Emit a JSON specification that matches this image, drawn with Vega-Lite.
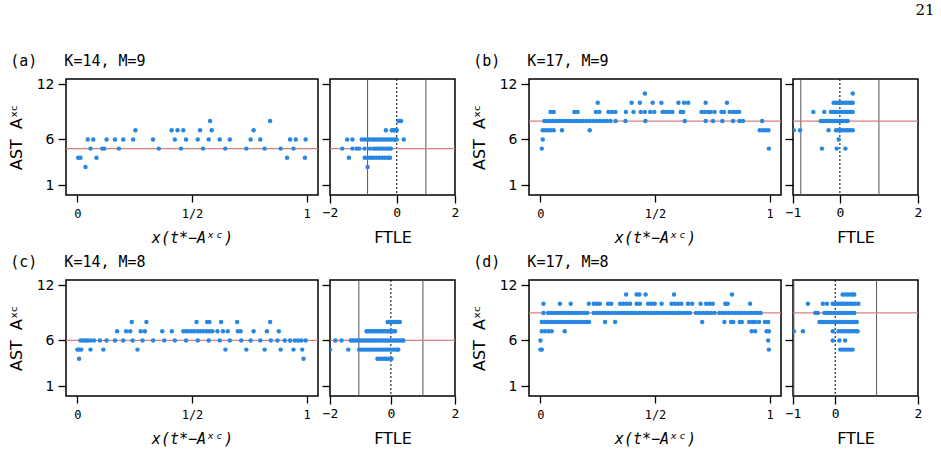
{
"$schema": "https://vega.github.io/schema/vega-lite/v6.json",
"background": "white",
"padding": {"left": 7, "top": 2, "right": 5, "bottom": 0},
"title": {"text": "21", "anchor": "end", "frame": "bounds", "font": "DejaVu Serif", "fontSize": 15, "fontWeight": "normal", "color": "black", "offset": 36, "dx": 12},
"config": {
  "view": {"stroke": "black", "strokeWidth": 1.5},
  "axis": {"domain": false, "grid": false, "tickColor": "black", "tickWidth": 1.3, "labelColor": "black", "titleColor": "black", "titleFontWeight": "normal"}
},
"datasets": {
  "hl": [{"p":"a","y":5},{"p":"b","y":8},{"p":"c","y":6},{"p":"d","y":9}],
  "vl": [{"v":-1,"t":"s"},{"v":1,"t":"s"},{"v":0,"t":"d"}],
  "pts": [
{"p":"a","y":8,"x":0.579},{"p":"a","y":8,"x":0.841},
{"p":"a","y":7,"x":0.253},{"p":"a","y":7,"x":0.411},{"p":"a","y":7,"x":0.437},{"p":"a","y":7,"x":0.462},{"p":"a","y":7,"x":0.535},{"p":"a","y":7,"x":0.586},{"p":"a","y":7,"x":0.769},
{"p":"a","y":6,"x":0.045},{"p":"a","y":6,"x":0.069},{"p":"a","y":6,"x":0.127},{"p":"a","y":6,"x":0.164},{"p":"a","y":6,"x":0.2},{"p":"a","y":6,"x":0.243},{"p":"a","y":6,"x":0.33},{"p":"a","y":6,"x":0.425},{"p":"a","y":6,"x":0.474},{"p":"a","y":6,"x":0.525},{"p":"a","y":6,"x":0.573},{"p":"a","y":6,"x":0.621},{"p":"a","y":6,"x":0.665},{"p":"a","y":6,"x":0.756},{"p":"a","y":6,"x":0.798},{"p":"a","y":6,"x":0.928},{"p":"a","y":6,"x":0.953},{"p":"a","y":6,"x":0.996},
{"p":"a","y":5,"x":0.057},{"p":"a","y":5,"x":0.108},{"p":"a","y":5,"x":0.117},{"p":"a","y":5,"x":0.181},{"p":"a","y":5,"x":0.355},{"p":"a","y":5,"x":0.452},{"p":"a","y":5,"x":0.548},{"p":"a","y":5,"x":0.645},{"p":"a","y":5,"x":0.737},{"p":"a","y":5,"x":0.817},{"p":"a","y":5,"x":0.887},{"p":"a","y":5,"x":0.943},
{"p":"a","y":4,"x":0.003},{"p":"a","y":4,"x":0.013},{"p":"a","y":4,"x":0.083},{"p":"a","y":4,"x":0.915},{"p":"a","y":4,"x":0.993},
{"p":"a","y":3,"x":0.035},

{"p":"b","y":11,"x":0.456},
{"p":"b","y":10,"x":0.25},{"p":"b","y":10,"x":0.398},{"p":"b","y":10,"x":0.434},{"p":"b","y":10,"x":0.49},{"p":"b","y":10,"x":0.528},{"p":"b","y":10,"x":0.602},{"p":"b","y":10,"x":0.627},{"p":"b","y":10,"x":0.645},{"p":"b","y":10,"x":0.721},{"p":"b","y":10,"x":0.814},
{"p":"b","y":9,"x":0.044},{"p":"b","y":9,"x":0.058},{"p":"b","y":9,"x":0.148},{"p":"b","y":9,"x":0.162},{"p":"b","y":9,"x":0.242},{"p":"b","y":9,"x":0.257},{"p":"b","y":9,"x":0.297},{"p":"b","y":9,"x":0.312},{"p":"b","y":9,"x":0.327},{"p":"b","y":9,"x":0.373},{"p":"b","y":9,"x":0.406},{"p":"b","y":9,"x":0.438},{"p":"b","y":9,"x":0.456},{"p":"b","y":9,"x":0.479},{"p":"b","y":9,"x":0.497},{"p":"b","y":9,"x":0.533},{"p":"b","y":9,"x":0.547},{"p":"b","y":9,"x":0.562},{"p":"b","y":9,"x":0.576},{"p":"b","y":9,"x":0.612},{"p":"b","y":9,"x":0.623},{"p":"b","y":9,"x":0.703},{"p":"b","y":9,"x":0.717},{"p":"b","y":9,"x":0.732},{"p":"b","y":9,"x":0.743},{"p":"b","y":9,"x":0.76},{"p":"b","y":9,"x":0.79},{"p":"b","y":9,"x":0.801},{"p":"b","y":9,"x":0.826},{"p":"b","y":9,"x":0.841},{"p":"b","y":9,"x":0.855},{"p":"b","y":9,"x":0.867},
{"p":"b","y":8,"x":0.017},{"p":"b","y":8,"x":0.03},{"p":"b","y":8,"x":0.043},{"p":"b","y":8,"x":0.056},{"p":"b","y":8,"x":0.069},{"p":"b","y":8,"x":0.082},{"p":"b","y":8,"x":0.095},{"p":"b","y":8,"x":0.108},{"p":"b","y":8,"x":0.121},{"p":"b","y":8,"x":0.134},{"p":"b","y":8,"x":0.147},{"p":"b","y":8,"x":0.16},{"p":"b","y":8,"x":0.173},{"p":"b","y":8,"x":0.186},{"p":"b","y":8,"x":0.2},{"p":"b","y":8,"x":0.215},{"p":"b","y":8,"x":0.23},{"p":"b","y":8,"x":0.245},{"p":"b","y":8,"x":0.26},{"p":"b","y":8,"x":0.275},{"p":"b","y":8,"x":0.29},{"p":"b","y":8,"x":0.305},{"p":"b","y":8,"x":0.328},{"p":"b","y":8,"x":0.371},{"p":"b","y":8,"x":0.458},{"p":"b","y":8,"x":0.63},{"p":"b","y":8,"x":0.721},{"p":"b","y":8,"x":0.753},{"p":"b","y":8,"x":0.794},{"p":"b","y":8,"x":0.841},{"p":"b","y":8,"x":0.869},{"p":"b","y":8,"x":0.884},{"p":"b","y":8,"x":0.968},
{"p":"b","y":7,"x":0.01},{"p":"b","y":7,"x":0.022},{"p":"b","y":7,"x":0.034},{"p":"b","y":7,"x":0.046},{"p":"b","y":7,"x":0.058},{"p":"b","y":7,"x":0.094},{"p":"b","y":7,"x":0.215},{"p":"b","y":7,"x":0.957},{"p":"b","y":7,"x":0.971},{"p":"b","y":7,"x":0.983},{"p":"b","y":7,"x":0.995},
{"p":"b","y":6,"x":0.01},
{"p":"b","y":5,"x":0.006},{"p":"b","y":5,"x":0.997},

{"p":"c","y":8,"x":0.237},{"p":"c","y":8,"x":0.301},{"p":"c","y":8,"x":0.52},{"p":"c","y":8,"x":0.566},{"p":"c","y":8,"x":0.576},{"p":"c","y":8,"x":0.627},{"p":"c","y":8,"x":0.697},{"p":"c","y":8,"x":0.841},
{"p":"c","y":7,"x":0.173},{"p":"c","y":7,"x":0.212},{"p":"c","y":7,"x":0.23},{"p":"c","y":7,"x":0.276},{"p":"c","y":7,"x":0.294},{"p":"c","y":7,"x":0.37},{"p":"c","y":7,"x":0.412},{"p":"c","y":7,"x":0.462},{"p":"c","y":7,"x":0.474},{"p":"c","y":7,"x":0.485},{"p":"c","y":7,"x":0.499},{"p":"c","y":7,"x":0.51},{"p":"c","y":7,"x":0.525},{"p":"c","y":7,"x":0.537},{"p":"c","y":7,"x":0.55},{"p":"c","y":7,"x":0.564},{"p":"c","y":7,"x":0.576},{"p":"c","y":7,"x":0.589},{"p":"c","y":7,"x":0.611},{"p":"c","y":7,"x":0.635},{"p":"c","y":7,"x":0.656},{"p":"c","y":7,"x":0.7},{"p":"c","y":7,"x":0.712},{"p":"c","y":7,"x":0.769},{"p":"c","y":7,"x":0.827},{"p":"c","y":7,"x":0.879},
{"p":"c","y":6,"x":0.013},{"p":"c","y":6,"x":0.025},{"p":"c","y":6,"x":0.035},{"p":"c","y":6,"x":0.045},{"p":"c","y":6,"x":0.057},{"p":"c","y":6,"x":0.072},{"p":"c","y":6,"x":0.098},{"p":"c","y":6,"x":0.127},{"p":"c","y":6,"x":0.164},{"p":"c","y":6,"x":0.2},{"p":"c","y":6,"x":0.241},{"p":"c","y":6,"x":0.284},{"p":"c","y":6,"x":0.33},{"p":"c","y":6,"x":0.379},{"p":"c","y":6,"x":0.425},{"p":"c","y":6,"x":0.474},{"p":"c","y":6,"x":0.525},{"p":"c","y":6,"x":0.573},{"p":"c","y":6,"x":0.621},{"p":"c","y":6,"x":0.665},{"p":"c","y":6,"x":0.715},{"p":"c","y":6,"x":0.756},{"p":"c","y":6,"x":0.798},{"p":"c","y":6,"x":0.844},{"p":"c","y":6,"x":0.873},{"p":"c","y":6,"x":0.905},{"p":"c","y":6,"x":0.928},{"p":"c","y":6,"x":0.949},{"p":"c","y":6,"x":0.963},{"p":"c","y":6,"x":0.978},{"p":"c","y":6,"x":0.996},
{"p":"c","y":5,"x":0.0},{"p":"c","y":5,"x":0.007},{"p":"c","y":5,"x":0.017},{"p":"c","y":5,"x":0.057},{"p":"c","y":5,"x":0.113},{"p":"c","y":5,"x":0.262},{"p":"c","y":5,"x":0.646},{"p":"c","y":5,"x":0.737},{"p":"c","y":5,"x":0.817},{"p":"c","y":5,"x":0.887},{"p":"c","y":5,"x":0.943},{"p":"c","y":5,"x":0.981},
{"p":"c","y":4,"x":0.007},{"p":"c","y":4,"x":0.987},

{"p":"d","y":11,"x":0.374},{"p":"d","y":11,"x":0.42},{"p":"d","y":11,"x":0.432},{"p":"d","y":11,"x":0.459},{"p":"d","y":11,"x":0.583},{"p":"d","y":11,"x":0.836},
{"p":"d","y":10,"x":0.013},{"p":"d","y":10,"x":0.085},{"p":"d","y":10,"x":0.132},{"p":"d","y":10,"x":0.211},{"p":"d","y":10,"x":0.233},{"p":"d","y":10,"x":0.247},{"p":"d","y":10,"x":0.259},{"p":"d","y":10,"x":0.295},{"p":"d","y":10,"x":0.309},{"p":"d","y":10,"x":0.348},{"p":"d","y":10,"x":0.362},{"p":"d","y":10,"x":0.377},{"p":"d","y":10,"x":0.391},{"p":"d","y":10,"x":0.42},{"p":"d","y":10,"x":0.434},{"p":"d","y":10,"x":0.47},{"p":"d","y":10,"x":0.484},{"p":"d","y":10,"x":0.499},{"p":"d","y":10,"x":0.529},{"p":"d","y":10,"x":0.572},{"p":"d","y":10,"x":0.587},{"p":"d","y":10,"x":0.601},{"p":"d","y":10,"x":0.615},{"p":"d","y":10,"x":0.644},{"p":"d","y":10,"x":0.662},{"p":"d","y":10,"x":0.699},{"p":"d","y":10,"x":0.723},{"p":"d","y":10,"x":0.738},{"p":"d","y":10,"x":0.752},{"p":"d","y":10,"x":0.807},{"p":"d","y":10,"x":0.817},{"p":"d","y":10,"x":0.915},
{"p":"d","y":9,"x":0.013},{"p":"d","y":9,"x":0.034},{"p":"d","y":9,"x":0.047},{"p":"d","y":9,"x":0.06},{"p":"d","y":9,"x":0.073},{"p":"d","y":9,"x":0.086},{"p":"d","y":9,"x":0.1},{"p":"d","y":9,"x":0.113},{"p":"d","y":9,"x":0.126},{"p":"d","y":9,"x":0.139},{"p":"d","y":9,"x":0.152},{"p":"d","y":9,"x":0.165},{"p":"d","y":9,"x":0.178},{"p":"d","y":9,"x":0.191},{"p":"d","y":9,"x":0.204},{"p":"d","y":9,"x":0.233},{"p":"d","y":9,"x":0.246},{"p":"d","y":9,"x":0.259},{"p":"d","y":9,"x":0.272},{"p":"d","y":9,"x":0.285},{"p":"d","y":9,"x":0.298},{"p":"d","y":9,"x":0.312},{"p":"d","y":9,"x":0.326},{"p":"d","y":9,"x":0.341},{"p":"d","y":9,"x":0.354},{"p":"d","y":9,"x":0.367},{"p":"d","y":9,"x":0.38},{"p":"d","y":9,"x":0.393},{"p":"d","y":9,"x":0.406},{"p":"d","y":9,"x":0.419},{"p":"d","y":9,"x":0.432},{"p":"d","y":9,"x":0.445},{"p":"d","y":9,"x":0.458},{"p":"d","y":9,"x":0.471},{"p":"d","y":9,"x":0.484},{"p":"d","y":9,"x":0.497},{"p":"d","y":9,"x":0.51},{"p":"d","y":9,"x":0.523},{"p":"d","y":9,"x":0.536},{"p":"d","y":9,"x":0.549},{"p":"d","y":9,"x":0.562},{"p":"d","y":9,"x":0.575},{"p":"d","y":9,"x":0.588},{"p":"d","y":9,"x":0.601},{"p":"d","y":9,"x":0.609},{"p":"d","y":9,"x":0.623},{"p":"d","y":9,"x":0.638},{"p":"d","y":9,"x":0.652},{"p":"d","y":9,"x":0.679},{"p":"d","y":9,"x":0.693},{"p":"d","y":9,"x":0.708},{"p":"d","y":9,"x":0.722},{"p":"d","y":9,"x":0.731},{"p":"d","y":9,"x":0.745},{"p":"d","y":9,"x":0.76},{"p":"d","y":9,"x":0.781},{"p":"d","y":9,"x":0.795},{"p":"d","y":9,"x":0.809},{"p":"d","y":9,"x":0.823},{"p":"d","y":9,"x":0.837},{"p":"d","y":9,"x":0.851},{"p":"d","y":9,"x":0.865},{"p":"d","y":9,"x":0.879},{"p":"d","y":9,"x":0.893},{"p":"d","y":9,"x":0.907},{"p":"d","y":9,"x":0.921},{"p":"d","y":9,"x":0.935},{"p":"d","y":9,"x":0.948},{"p":"d","y":9,"x":0.961},
{"p":"d","y":8,"x":0.006},{"p":"d","y":8,"x":0.019},{"p":"d","y":8,"x":0.032},{"p":"d","y":8,"x":0.045},{"p":"d","y":8,"x":0.058},{"p":"d","y":8,"x":0.071},{"p":"d","y":8,"x":0.084},{"p":"d","y":8,"x":0.097},{"p":"d","y":8,"x":0.11},{"p":"d","y":8,"x":0.123},{"p":"d","y":8,"x":0.136},{"p":"d","y":8,"x":0.149},{"p":"d","y":8,"x":0.162},{"p":"d","y":8,"x":0.175},{"p":"d","y":8,"x":0.188},{"p":"d","y":8,"x":0.2},{"p":"d","y":8,"x":0.212},{"p":"d","y":8,"x":0.282},{"p":"d","y":8,"x":0.326},{"p":"d","y":8,"x":0.706},{"p":"d","y":8,"x":0.803},{"p":"d","y":8,"x":0.832},{"p":"d","y":8,"x":0.842},{"p":"d","y":8,"x":0.87},{"p":"d","y":8,"x":0.879},{"p":"d","y":8,"x":0.911},{"p":"d","y":8,"x":0.925},{"p":"d","y":8,"x":0.937},{"p":"d","y":8,"x":0.954},{"p":"d","y":8,"x":0.98},{"p":"d","y":8,"x":0.994},
{"p":"d","y":7,"x":0.006},{"p":"d","y":7,"x":0.02},{"p":"d","y":7,"x":0.035},{"p":"d","y":7,"x":0.049},{"p":"d","y":7,"x":0.106},{"p":"d","y":7,"x":0.922},{"p":"d","y":7,"x":0.937},{"p":"d","y":7,"x":0.987},{"p":"d","y":7,"x":0.997},
{"p":"d","y":6,"x":0.0},{"p":"d","y":6,"x":0.994},
{"p":"d","y":5,"x":0.0},{"p":"d","y":5,"x":0.006},{"p":"d","y":5,"x":0.997}
  ],
  "ft": [
{"p":"a","y":8,"f":0.06},{"p":"a","y":8,"f":0.15},
{"p":"a","y":7,"f":-0.37},{"p":"a","y":7,"f":-0.17},{"p":"a","y":7,"f":-0.12},{"p":"a","y":7,"f":-0.08},{"p":"a","y":7,"f":-0.04},{"p":"a","y":7,"f":0.0},
{"p":"a","y":6,"f":-1.7},{"p":"a","y":6,"f":-1.52},{"p":"a","y":6,"f":-1.2},{"p":"a","y":6,"f":-1.1},{"p":"a","y":6,"f":-1.0},{"p":"a","y":6,"f":-0.92},{"p":"a","y":6,"f":-0.84},{"p":"a","y":6,"f":-0.76},{"p":"a","y":6,"f":-0.68},{"p":"a","y":6,"f":-0.6},{"p":"a","y":6,"f":-0.52},{"p":"a","y":6,"f":-0.44},{"p":"a","y":6,"f":-0.36},{"p":"a","y":6,"f":-0.28},{"p":"a","y":6,"f":-0.2},{"p":"a","y":6,"f":-0.12},{"p":"a","y":6,"f":-0.05},{"p":"a","y":6,"f":0.0},{"p":"a","y":6,"f":0.24},
{"p":"a","y":5,"f":-1.87},{"p":"a","y":5,"f":-1.52},{"p":"a","y":5,"f":-1.38},{"p":"a","y":5,"f":-1.29},{"p":"a","y":5,"f":-1.1},{"p":"a","y":5,"f":-0.92},{"p":"a","y":5,"f":-0.8},{"p":"a","y":5,"f":-0.72},{"p":"a","y":5,"f":-0.64},{"p":"a","y":5,"f":-0.56},{"p":"a","y":5,"f":-0.48},{"p":"a","y":5,"f":-0.4},{"p":"a","y":5,"f":-0.32},{"p":"a","y":5,"f":-0.24},{"p":"a","y":5,"f":-0.2},
{"p":"a","y":4,"f":-1.64},{"p":"a","y":4,"f":-1.1},{"p":"a","y":4,"f":-1.0},{"p":"a","y":4,"f":-0.9},{"p":"a","y":4,"f":-0.8},{"p":"a","y":4,"f":-0.7},{"p":"a","y":4,"f":-0.6},{"p":"a","y":4,"f":-0.5},{"p":"a","y":4,"f":-0.4},{"p":"a","y":4,"f":-0.3},{"p":"a","y":4,"f":-0.23},
{"p":"a","y":3,"f":-1.0},

{"p":"b","y":11,"f":0.33},
{"p":"b","y":10,"f":-0.16},{"p":"b","y":10,"f":-0.1},{"p":"b","y":10,"f":-0.04},{"p":"b","y":10,"f":0.03},{"p":"b","y":10,"f":0.1},{"p":"b","y":10,"f":0.16},{"p":"b","y":10,"f":0.22},{"p":"b","y":10,"f":0.28},{"p":"b","y":10,"f":0.33},
{"p":"b","y":9,"f":-0.68},{"p":"b","y":9,"f":-0.4},{"p":"b","y":9,"f":-0.23},{"p":"b","y":9,"f":-0.17},{"p":"b","y":9,"f":-0.11},{"p":"b","y":9,"f":-0.05},{"p":"b","y":9,"f":0.0},{"p":"b","y":9,"f":0.05},{"p":"b","y":9,"f":0.1},{"p":"b","y":9,"f":0.15},{"p":"b","y":9,"f":0.2},{"p":"b","y":9,"f":0.25},{"p":"b","y":9,"f":0.3},{"p":"b","y":9,"f":0.33},
{"p":"b","y":8,"f":-0.49},{"p":"b","y":8,"f":-0.43},{"p":"b","y":8,"f":-0.37},{"p":"b","y":8,"f":-0.31},{"p":"b","y":8,"f":-0.25},{"p":"b","y":8,"f":-0.19},{"p":"b","y":8,"f":-0.13},{"p":"b","y":8,"f":-0.07},{"p":"b","y":8,"f":-0.01},{"p":"b","y":8,"f":0.05},{"p":"b","y":8,"f":0.11},{"p":"b","y":8,"f":0.17},{"p":"b","y":8,"f":0.2},
{"p":"b","y":7,"f":-1.18},{"p":"b","y":7,"f":-1.02},{"p":"b","y":7,"f":-0.29},{"p":"b","y":7,"f":-0.1},{"p":"b","y":7,"f":-0.04},{"p":"b","y":7,"f":0.02},{"p":"b","y":7,"f":0.08},{"p":"b","y":7,"f":0.14},{"p":"b","y":7,"f":0.2},{"p":"b","y":7,"f":0.26},{"p":"b","y":7,"f":0.33},
{"p":"b","y":6,"f":-0.03},
{"p":"b","y":5,"f":-0.46},{"p":"b","y":5,"f":-0.08},{"p":"b","y":5,"f":0.14},

{"p":"c","y":8,"f":-0.1},{"p":"c","y":8,"f":-0.05},{"p":"c","y":8,"f":0.0},{"p":"c","y":8,"f":0.05},{"p":"c","y":8,"f":0.1},{"p":"c","y":8,"f":0.15},{"p":"c","y":8,"f":0.2},{"p":"c","y":8,"f":0.28},
{"p":"c","y":7,"f":-0.76},{"p":"c","y":7,"f":-0.7},{"p":"c","y":7,"f":-0.64},{"p":"c","y":7,"f":-0.58},{"p":"c","y":7,"f":-0.52},{"p":"c","y":7,"f":-0.46},{"p":"c","y":7,"f":-0.4},{"p":"c","y":7,"f":-0.34},{"p":"c","y":7,"f":-0.28},{"p":"c","y":7,"f":-0.22},{"p":"c","y":7,"f":-0.16},{"p":"c","y":7,"f":-0.1},{"p":"c","y":7,"f":-0.04},{"p":"c","y":7,"f":0.02},{"p":"c","y":7,"f":0.08},{"p":"c","y":7,"f":0.13},
{"p":"c","y":6,"f":-1.73},{"p":"c","y":6,"f":-1.54},{"p":"c","y":6,"f":-1.25},{"p":"c","y":6,"f":-1.19},{"p":"c","y":6,"f":-1.12},{"p":"c","y":6,"f":-1.05},{"p":"c","y":6,"f":-0.98},{"p":"c","y":6,"f":-0.91},{"p":"c","y":6,"f":-0.84},{"p":"c","y":6,"f":-0.77},{"p":"c","y":6,"f":-0.7},{"p":"c","y":6,"f":-0.63},{"p":"c","y":6,"f":-0.56},{"p":"c","y":6,"f":-0.49},{"p":"c","y":6,"f":-0.42},{"p":"c","y":6,"f":-0.35},{"p":"c","y":6,"f":-0.28},{"p":"c","y":6,"f":-0.21},{"p":"c","y":6,"f":-0.14},{"p":"c","y":6,"f":-0.07},{"p":"c","y":6,"f":0.0},{"p":"c","y":6,"f":0.07},{"p":"c","y":6,"f":0.14},{"p":"c","y":6,"f":0.21},{"p":"c","y":6,"f":0.28},{"p":"c","y":6,"f":0.35},{"p":"c","y":6,"f":0.39},
{"p":"c","y":5,"f":-1.9},{"p":"c","y":5,"f":-1.33},{"p":"c","y":5,"f":-0.99},{"p":"c","y":5,"f":-0.92},{"p":"c","y":5,"f":-0.85},{"p":"c","y":5,"f":-0.78},{"p":"c","y":5,"f":-0.71},{"p":"c","y":5,"f":-0.64},{"p":"c","y":5,"f":-0.57},{"p":"c","y":5,"f":-0.5},{"p":"c","y":5,"f":-0.43},{"p":"c","y":5,"f":-0.36},{"p":"c","y":5,"f":-0.29},{"p":"c","y":5,"f":-0.22},{"p":"c","y":5,"f":-0.15},{"p":"c","y":5,"f":-0.08},{"p":"c","y":5,"f":-0.01},{"p":"c","y":5,"f":0.06},{"p":"c","y":5,"f":0.13},{"p":"c","y":5,"f":0.2},{"p":"c","y":5,"f":0.23},
{"p":"c","y":4,"f":-0.42},{"p":"c","y":4,"f":-0.35},{"p":"c","y":4,"f":-0.28},{"p":"c","y":4,"f":-0.21},{"p":"c","y":4,"f":-0.14},{"p":"c","y":4,"f":-0.07},{"p":"c","y":4,"f":0.0},{"p":"c","y":4,"f":0.02},

{"p":"d","y":11,"f":0.18},{"p":"d","y":11,"f":0.24},{"p":"d","y":11,"f":0.3},{"p":"d","y":11,"f":0.36},{"p":"d","y":11,"f":0.42},{"p":"d","y":11,"f":0.46},
{"p":"d","y":10,"f":-0.66},{"p":"d","y":10,"f":-0.3},{"p":"d","y":10,"f":-0.2},{"p":"d","y":10,"f":-0.06},{"p":"d","y":10,"f":0.0},{"p":"d","y":10,"f":0.06},{"p":"d","y":10,"f":0.12},{"p":"d","y":10,"f":0.18},{"p":"d","y":10,"f":0.24},{"p":"d","y":10,"f":0.3},{"p":"d","y":10,"f":0.36},{"p":"d","y":10,"f":0.42},{"p":"d","y":10,"f":0.48},{"p":"d","y":10,"f":0.56},
{"p":"d","y":9,"f":-0.48},{"p":"d","y":9,"f":-0.42},{"p":"d","y":9,"f":-0.26},{"p":"d","y":9,"f":-0.2},{"p":"d","y":9,"f":-0.14},{"p":"d","y":9,"f":-0.08},{"p":"d","y":9,"f":-0.02},{"p":"d","y":9,"f":0.04},{"p":"d","y":9,"f":0.1},{"p":"d","y":9,"f":0.16},{"p":"d","y":9,"f":0.22},{"p":"d","y":9,"f":0.28},{"p":"d","y":9,"f":0.34},{"p":"d","y":9,"f":0.4},{"p":"d","y":9,"f":0.46},
{"p":"d","y":8,"f":-0.38},{"p":"d","y":8,"f":-0.32},{"p":"d","y":8,"f":-0.26},{"p":"d","y":8,"f":-0.2},{"p":"d","y":8,"f":-0.14},{"p":"d","y":8,"f":-0.08},{"p":"d","y":8,"f":-0.02},{"p":"d","y":8,"f":0.04},{"p":"d","y":8,"f":0.1},{"p":"d","y":8,"f":0.16},{"p":"d","y":8,"f":0.22},{"p":"d","y":8,"f":0.28},{"p":"d","y":8,"f":0.34},{"p":"d","y":8,"f":0.4},{"p":"d","y":8,"f":0.46},{"p":"d","y":8,"f":0.52},
{"p":"d","y":7,"f":-1.0},{"p":"d","y":7,"f":-0.78},{"p":"d","y":7,"f":-0.06},{"p":"d","y":7,"f":0.08},{"p":"d","y":7,"f":0.14},{"p":"d","y":7,"f":0.2},{"p":"d","y":7,"f":0.26},{"p":"d","y":7,"f":0.32},{"p":"d","y":7,"f":0.38},{"p":"d","y":7,"f":0.44},{"p":"d","y":7,"f":0.5},{"p":"d","y":7,"f":0.54},
{"p":"d","y":6,"f":-0.06},{"p":"d","y":6,"f":0.1},{"p":"d","y":6,"f":0.24},
{"p":"d","y":5,"f":0.12},{"p":"d","y":5,"f":0.18},{"p":"d","y":5,"f":0.24},{"p":"d","y":5,"f":0.3},{"p":"d","y":5,"f":0.36},{"p":"d","y":5,"f":0.42}
  ]
},
"spacing": 8,
"vconcat": [
 {"spacing": 10, "hconcat": [
  {"spacing": 0, "hconcat": [
   {"width": 252, "height": 116,
    "title": {"text": "(a)\u00a0\u00a0\u00a0K=14,\u00a0M=9", "anchor": "start", "frame": "bounds", "font": "DejaVu Sans Mono", "fontSize": 15, "fontWeight": "normal", "color": "black", "offset": 8, "dx": 2},
    "layer": [
     {"data": {"name": "hl"}, "transform": [{"filter": "datum.p == 'a'"}], "mark": {"type": "rule", "color": "#d98080", "strokeWidth": 1.3},
      "encoding": {"y": {"field": "y", "type": "quantitative", "scale": {"domain": [-0.05, 12.58], "nice": false, "zero": false}, "axis": {"values": [1, 6, 12], "tickSize": 8, "labelFont": "DejaVu Sans", "labelFontSize": 14, "labelPadding": 4, "title": "AST\u00a0\u00a0Aˣᶜ", "titleFont": "DejaVu Sans", "titleFontSize": 16, "titlePadding": 12}}}},
     {"data": {"name": "pts"}, "transform": [{"filter": "datum.p == 'a'"}], "mark": {"type": "circle", "size": 20, "color": "#2787e3", "opacity": 1},
      "encoding": {
       "x": {"field": "x", "type": "quantitative", "scale": {"domain": [-0.05, 1.05], "nice": false, "zero": false}, "axis": {"values": [0, 0.5, 1], "labelExpr": "datum.value == 0.5 ? '1/2' : (datum.value == 0 ? '0' : '1')", "tickSize": 7, "labelFont": "DejaVu Sans Mono", "labelFontSize": 12, "labelPadding": 6, "labelFlush": false, "title": "x(t*−Aˣᶜ)", "titleFont": "DejaVu Sans Mono", "titleFontStyle": "italic", "titleFontSize": 15, "titlePadding": 11}},
       "y": {"field": "y", "type": "quantitative", "scale": {"domain": [-0.05, 12.58], "nice": false, "zero": false}, "axis": {"values": [1, 6, 12], "tickSize": 8, "labelFont": "DejaVu Sans", "labelFontSize": 14, "labelPadding": 4, "title": "AST\u00a0\u00a0Aˣᶜ", "titleFont": "DejaVu Sans", "titleFontSize": 16, "titlePadding": 12}}}}
    ]},
   {"width": 125, "height": 116,
    "layer": [
     {"data": {"name": "vl"}, "transform": [{"filter": "datum.t == 's'"}], "mark": {"type": "rule", "color": "#555555", "strokeWidth": 1},
      "encoding": {"x": {"field": "v", "type": "quantitative", "scale": {"domain": [-2.29, 2], "nice": false, "zero": false}, "axis": {"values": [-2.29, 0, 2], "labelExpr": "datum.value < -1.5 ? '−2' : (datum.value < -0.5 ? '−1' : (datum.value == 0 ? '0' : '2'))", "tickSize": 8, "labelFont": "DejaVu Sans Mono", "labelFontSize": 13, "labelPadding": 3, "labelFlush": false, "labelOverlap": false, "title": "FTLE", "titleFont": "DejaVu Sans", "titleFontSize": 16, "titlePadding": 10}}}},
     {"data": {"name": "vl"}, "transform": [{"filter": "datum.t == 'd'"}], "mark": {"type": "rule", "color": "black", "strokeWidth": 1, "strokeDash": [2, 2]},
      "encoding": {"x": {"field": "v", "type": "quantitative", "scale": {"domain": [-2.29, 2], "nice": false, "zero": false}}}},
     {"data": {"name": "hl"}, "transform": [{"filter": "datum.p == 'a'"}], "mark": {"type": "rule", "color": "#d98080", "strokeWidth": 1.3},
      "encoding": {"y": {"field": "y", "type": "quantitative", "scale": {"domain": [-0.05, 12.58], "nice": false, "zero": false}, "axis": {"values": [1, 6, 12], "tickSize": 8, "labels": false, "title": null}}}},
     {"data": {"name": "ft"}, "transform": [{"filter": "datum.p == 'a'"}], "mark": {"type": "circle", "size": 20, "color": "#2787e3", "opacity": 1, "clip": true},
      "encoding": {
       "x": {"field": "f", "type": "quantitative", "scale": {"domain": [-2.29, 2], "nice": false, "zero": false}},
       "y": {"field": "y", "type": "quantitative", "scale": {"domain": [-0.05, 12.58], "nice": false, "zero": false}, "axis": {"values": [1, 6, 12], "tickSize": 8, "labels": false, "title": null}}}}
    ]}
  ]},
  {"spacing": 0, "hconcat": [
   {"width": 252, "height": 116,
    "title": {"text": "(b)\u00a0\u00a0\u00a0K=17,\u00a0M=9", "anchor": "start", "frame": "bounds", "font": "DejaVu Sans Mono", "fontSize": 15, "fontWeight": "normal", "color": "black", "offset": 8, "dx": 2},
    "layer": [
     {"data": {"name": "hl"}, "transform": [{"filter": "datum.p == 'b'"}], "mark": {"type": "rule", "color": "#d98080", "strokeWidth": 1.3},
      "encoding": {"y": {"field": "y", "type": "quantitative", "scale": {"domain": [-0.05, 12.58], "nice": false, "zero": false}, "axis": {"values": [1, 6, 12], "tickSize": 8, "labelFont": "DejaVu Sans", "labelFontSize": 14, "labelPadding": 4, "title": "AST\u00a0\u00a0Aˣᶜ", "titleFont": "DejaVu Sans", "titleFontSize": 16, "titlePadding": 12}}}},
     {"data": {"name": "pts"}, "transform": [{"filter": "datum.p == 'b'"}], "mark": {"type": "circle", "size": 20, "color": "#2787e3", "opacity": 1},
      "encoding": {
       "x": {"field": "x", "type": "quantitative", "scale": {"domain": [-0.05, 1.05], "nice": false, "zero": false}, "axis": {"values": [0, 0.5, 1], "labelExpr": "datum.value == 0.5 ? '1/2' : (datum.value == 0 ? '0' : '1')", "tickSize": 7, "labelFont": "DejaVu Sans Mono", "labelFontSize": 12, "labelPadding": 6, "labelFlush": false, "title": "x(t*−Aˣᶜ)", "titleFont": "DejaVu Sans Mono", "titleFontStyle": "italic", "titleFontSize": 15, "titlePadding": 11}},
       "y": {"field": "y", "type": "quantitative", "scale": {"domain": [-0.05, 12.58], "nice": false, "zero": false}, "axis": {"values": [1, 6, 12], "tickSize": 8, "labelFont": "DejaVu Sans", "labelFontSize": 14, "labelPadding": 4, "title": "AST\u00a0\u00a0Aˣᶜ", "titleFont": "DejaVu Sans", "titleFontSize": 16, "titlePadding": 12}}}}
    ]},
   {"width": 125, "height": 116,
    "layer": [
     {"data": {"name": "vl"}, "transform": [{"filter": "datum.t == 's'"}], "mark": {"type": "rule", "color": "#555555", "strokeWidth": 1},
      "encoding": {"x": {"field": "v", "type": "quantitative", "scale": {"domain": [-1.2, 2], "nice": false, "zero": false}, "axis": {"values": [-1.2, 0, 2], "labelExpr": "datum.value < -1.5 ? '−2' : (datum.value < -0.5 ? '−1' : (datum.value == 0 ? '0' : '2'))", "tickSize": 8, "labelFont": "DejaVu Sans Mono", "labelFontSize": 13, "labelPadding": 3, "labelFlush": false, "labelOverlap": false, "title": "FTLE", "titleFont": "DejaVu Sans", "titleFontSize": 16, "titlePadding": 10}}}},
     {"data": {"name": "vl"}, "transform": [{"filter": "datum.t == 'd'"}], "mark": {"type": "rule", "color": "black", "strokeWidth": 1, "strokeDash": [2, 2]},
      "encoding": {"x": {"field": "v", "type": "quantitative", "scale": {"domain": [-1.2, 2], "nice": false, "zero": false}}}},
     {"data": {"name": "hl"}, "transform": [{"filter": "datum.p == 'b'"}], "mark": {"type": "rule", "color": "#d98080", "strokeWidth": 1.3},
      "encoding": {"y": {"field": "y", "type": "quantitative", "scale": {"domain": [-0.05, 12.58], "nice": false, "zero": false}, "axis": {"values": [1, 6, 12], "tickSize": 8, "labels": false, "title": null}}}},
     {"data": {"name": "ft"}, "transform": [{"filter": "datum.p == 'b'"}], "mark": {"type": "circle", "size": 20, "color": "#2787e3", "opacity": 1, "clip": true},
      "encoding": {
       "x": {"field": "f", "type": "quantitative", "scale": {"domain": [-1.2, 2], "nice": false, "zero": false}},
       "y": {"field": "y", "type": "quantitative", "scale": {"domain": [-0.05, 12.58], "nice": false, "zero": false}, "axis": {"values": [1, 6, 12], "tickSize": 8, "labels": false, "title": null}}}}
    ]}
  ]}
 ]},
 {"spacing": 10, "hconcat": [
  {"spacing": 0, "hconcat": [
   {"width": 252, "height": 116,
    "title": {"text": "(c)\u00a0\u00a0\u00a0K=14,\u00a0M=8", "anchor": "start", "frame": "bounds", "font": "DejaVu Sans Mono", "fontSize": 15, "fontWeight": "normal", "color": "black", "offset": 8, "dx": 2},
    "layer": [
     {"data": {"name": "hl"}, "transform": [{"filter": "datum.p == 'c'"}], "mark": {"type": "rule", "color": "#d98080", "strokeWidth": 1.3},
      "encoding": {"y": {"field": "y", "type": "quantitative", "scale": {"domain": [-0.05, 12.58], "nice": false, "zero": false}, "axis": {"values": [1, 6, 12], "tickSize": 8, "labelFont": "DejaVu Sans", "labelFontSize": 14, "labelPadding": 4, "title": "AST\u00a0\u00a0Aˣᶜ", "titleFont": "DejaVu Sans", "titleFontSize": 16, "titlePadding": 12}}}},
     {"data": {"name": "pts"}, "transform": [{"filter": "datum.p == 'c'"}], "mark": {"type": "circle", "size": 20, "color": "#2787e3", "opacity": 1},
      "encoding": {
       "x": {"field": "x", "type": "quantitative", "scale": {"domain": [-0.05, 1.05], "nice": false, "zero": false}, "axis": {"values": [0, 0.5, 1], "labelExpr": "datum.value == 0.5 ? '1/2' : (datum.value == 0 ? '0' : '1')", "tickSize": 7, "labelFont": "DejaVu Sans Mono", "labelFontSize": 12, "labelPadding": 6, "labelFlush": false, "title": "x(t*−Aˣᶜ)", "titleFont": "DejaVu Sans Mono", "titleFontStyle": "italic", "titleFontSize": 15, "titlePadding": 11}},
       "y": {"field": "y", "type": "quantitative", "scale": {"domain": [-0.05, 12.58], "nice": false, "zero": false}, "axis": {"values": [1, 6, 12], "tickSize": 8, "labelFont": "DejaVu Sans", "labelFontSize": 14, "labelPadding": 4, "title": "AST\u00a0\u00a0Aˣᶜ", "titleFont": "DejaVu Sans", "titleFontSize": 16, "titlePadding": 12}}}}
    ]},
   {"width": 125, "height": 116,
    "layer": [
     {"data": {"name": "vl"}, "transform": [{"filter": "datum.t == 's'"}], "mark": {"type": "rule", "color": "#555555", "strokeWidth": 1},
      "encoding": {"x": {"field": "v", "type": "quantitative", "scale": {"domain": [-1.9, 2], "nice": false, "zero": false}, "axis": {"values": [-1.9, 0, 2], "labelExpr": "datum.value < -1.5 ? '−2' : (datum.value < -0.5 ? '−1' : (datum.value == 0 ? '0' : '2'))", "tickSize": 8, "labelFont": "DejaVu Sans Mono", "labelFontSize": 13, "labelPadding": 3, "labelFlush": false, "labelOverlap": false, "title": "FTLE", "titleFont": "DejaVu Sans", "titleFontSize": 16, "titlePadding": 10}}}},
     {"data": {"name": "vl"}, "transform": [{"filter": "datum.t == 'd'"}], "mark": {"type": "rule", "color": "black", "strokeWidth": 1, "strokeDash": [2, 2]},
      "encoding": {"x": {"field": "v", "type": "quantitative", "scale": {"domain": [-1.9, 2], "nice": false, "zero": false}}}},
     {"data": {"name": "hl"}, "transform": [{"filter": "datum.p == 'c'"}], "mark": {"type": "rule", "color": "#d98080", "strokeWidth": 1.3},
      "encoding": {"y": {"field": "y", "type": "quantitative", "scale": {"domain": [-0.05, 12.58], "nice": false, "zero": false}, "axis": {"values": [1, 6, 12], "tickSize": 8, "labels": false, "title": null}}}},
     {"data": {"name": "ft"}, "transform": [{"filter": "datum.p == 'c'"}], "mark": {"type": "circle", "size": 20, "color": "#2787e3", "opacity": 1, "clip": true},
      "encoding": {
       "x": {"field": "f", "type": "quantitative", "scale": {"domain": [-1.9, 2], "nice": false, "zero": false}},
       "y": {"field": "y", "type": "quantitative", "scale": {"domain": [-0.05, 12.58], "nice": false, "zero": false}, "axis": {"values": [1, 6, 12], "tickSize": 8, "labels": false, "title": null}}}}
    ]}
  ]},
  {"spacing": 0, "hconcat": [
   {"width": 252, "height": 116,
    "title": {"text": "(d)\u00a0\u00a0\u00a0K=17,\u00a0M=8", "anchor": "start", "frame": "bounds", "font": "DejaVu Sans Mono", "fontSize": 15, "fontWeight": "normal", "color": "black", "offset": 8, "dx": 2},
    "layer": [
     {"data": {"name": "hl"}, "transform": [{"filter": "datum.p == 'd'"}], "mark": {"type": "rule", "color": "#d98080", "strokeWidth": 1.3},
      "encoding": {"y": {"field": "y", "type": "quantitative", "scale": {"domain": [-0.05, 12.58], "nice": false, "zero": false}, "axis": {"values": [1, 6, 12], "tickSize": 8, "labelFont": "DejaVu Sans", "labelFontSize": 14, "labelPadding": 4, "title": "AST\u00a0\u00a0Aˣᶜ", "titleFont": "DejaVu Sans", "titleFontSize": 16, "titlePadding": 12}}}},
     {"data": {"name": "pts"}, "transform": [{"filter": "datum.p == 'd'"}], "mark": {"type": "circle", "size": 20, "color": "#2787e3", "opacity": 1},
      "encoding": {
       "x": {"field": "x", "type": "quantitative", "scale": {"domain": [-0.05, 1.05], "nice": false, "zero": false}, "axis": {"values": [0, 0.5, 1], "labelExpr": "datum.value == 0.5 ? '1/2' : (datum.value == 0 ? '0' : '1')", "tickSize": 7, "labelFont": "DejaVu Sans Mono", "labelFontSize": 12, "labelPadding": 6, "labelFlush": false, "title": "x(t*−Aˣᶜ)", "titleFont": "DejaVu Sans Mono", "titleFontStyle": "italic", "titleFontSize": 15, "titlePadding": 11}},
       "y": {"field": "y", "type": "quantitative", "scale": {"domain": [-0.05, 12.58], "nice": false, "zero": false}, "axis": {"values": [1, 6, 12], "tickSize": 8, "labelFont": "DejaVu Sans", "labelFontSize": 14, "labelPadding": 4, "title": "AST\u00a0\u00a0Aˣᶜ", "titleFont": "DejaVu Sans", "titleFontSize": 16, "titlePadding": 12}}}}
    ]},
   {"width": 125, "height": 116,
    "layer": [
     {"data": {"name": "vl"}, "transform": [{"filter": "datum.t == 's'"}], "mark": {"type": "rule", "color": "#555555", "strokeWidth": 1},
      "encoding": {"x": {"field": "v", "type": "quantitative", "scale": {"domain": [-1.02, 2], "nice": false, "zero": false}, "axis": {"values": [-1.02, 0, 2], "labelExpr": "datum.value < -1.5 ? '−2' : (datum.value < -0.5 ? '−1' : (datum.value == 0 ? '0' : '2'))", "tickSize": 8, "labelFont": "DejaVu Sans Mono", "labelFontSize": 13, "labelPadding": 3, "labelFlush": false, "labelOverlap": false, "title": "FTLE", "titleFont": "DejaVu Sans", "titleFontSize": 16, "titlePadding": 10}}}},
     {"data": {"name": "vl"}, "transform": [{"filter": "datum.t == 'd'"}], "mark": {"type": "rule", "color": "black", "strokeWidth": 1, "strokeDash": [2, 2]},
      "encoding": {"x": {"field": "v", "type": "quantitative", "scale": {"domain": [-1.02, 2], "nice": false, "zero": false}}}},
     {"data": {"name": "hl"}, "transform": [{"filter": "datum.p == 'd'"}], "mark": {"type": "rule", "color": "#d98080", "strokeWidth": 1.3},
      "encoding": {"y": {"field": "y", "type": "quantitative", "scale": {"domain": [-0.05, 12.58], "nice": false, "zero": false}, "axis": {"values": [1, 6, 12], "tickSize": 8, "labels": false, "title": null}}}},
     {"data": {"name": "ft"}, "transform": [{"filter": "datum.p == 'd'"}], "mark": {"type": "circle", "size": 20, "color": "#2787e3", "opacity": 1, "clip": true},
      "encoding": {
       "x": {"field": "f", "type": "quantitative", "scale": {"domain": [-1.02, 2], "nice": false, "zero": false}},
       "y": {"field": "y", "type": "quantitative", "scale": {"domain": [-0.05, 12.58], "nice": false, "zero": false}, "axis": {"values": [1, 6, 12], "tickSize": 8, "labels": false, "title": null}}}}
    ]}
  ]}
 ]}
]
}
